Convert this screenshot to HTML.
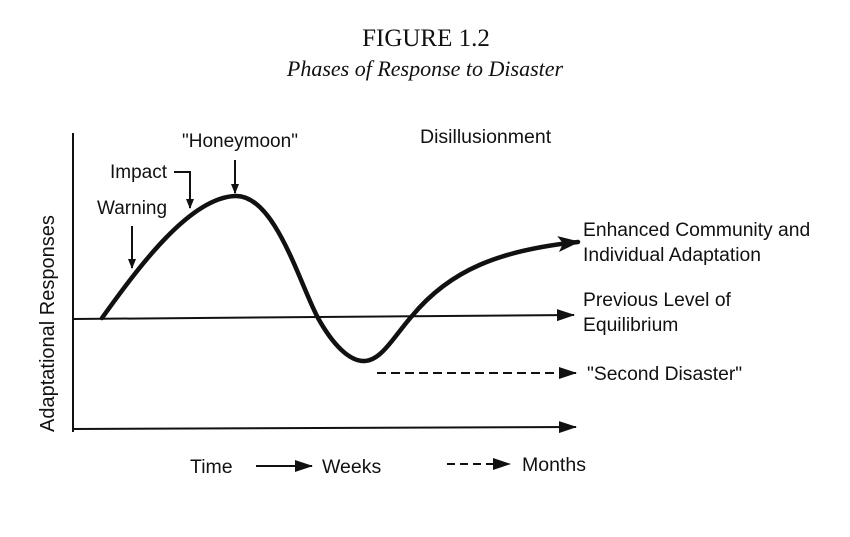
<!DOCTYPE html>
<html><head><style>
body{margin:0;background:#fff;}
svg text{font-family:"Liberation Sans",sans-serif;fill:#111;}
</style></head><body>
<svg width="850" height="532" viewBox="0 0 850 532" xmlns="http://www.w3.org/2000/svg">
<defs>
<marker id="ah" markerWidth="10" markerHeight="8" refX="9" refY="4" orient="auto" markerUnits="userSpaceOnUse" viewBox="0 0 10 8"><path d="M0,0 L10,4 L0,8 z" fill="#111"/></marker>
<marker id="ah2" markerWidth="22" markerHeight="16" refX="20" refY="8" orient="auto" markerUnits="userSpaceOnUse" viewBox="0 0 22 16"><path d="M0,0 L22,8 L0,16 L5,8 z" fill="#111"/></marker>
<marker id="ah3" markerWidth="18" markerHeight="12" refX="17" refY="6" orient="auto" markerUnits="userSpaceOnUse" viewBox="0 0 18 12"><path d="M0,0 L18,6 L0,12 z" fill="#111"/></marker>
</defs>
<text x="426" y="46" text-anchor="middle" style="font-family:'Liberation Serif',serif;font-size:25px">FIGURE 1.2</text>
<text x="425" y="76" text-anchor="middle" style="font-family:'Liberation Serif',serif;font-size:22px;font-style:italic">Phases of Response to Disaster</text>
<line x1="73" y1="133" x2="73" y2="432" stroke="#111" stroke-width="2"/>
<line x1="73" y1="429" x2="576" y2="427" stroke="#111" stroke-width="2" marker-end="url(#ah3)"/>
<line x1="73" y1="319" x2="574" y2="315" stroke="#111" stroke-width="2" marker-end="url(#ah3)"/>
<line x1="377" y1="373" x2="576" y2="373" stroke="#111" stroke-width="2" stroke-dasharray="9,5" marker-end="url(#ah3)"/>
<path d="M102,318 C140,265 190,198 235,196 C275,194 300,285 318,318 C333,345 350,362 365,361 C382,360 395,335 412,316 C450,270 500,250 578,242" fill="none" stroke="#111" stroke-width="4.5" stroke-linecap="round" marker-end="url(#ah2)"/>
<line x1="132" y1="226" x2="132" y2="268" stroke="#111" stroke-width="2" marker-end="url(#ah)"/>
<polyline points="174,172 190,172 190,208" fill="none" stroke="#111" stroke-width="2" marker-end="url(#ah)"/>
<line x1="235" y1="160" x2="235" y2="193" stroke="#111" stroke-width="2" marker-end="url(#ah)"/>
<text x="97" y="214" font-size="19">Warning</text>
<text x="110" y="178" font-size="19">Impact</text>
<text x="182" y="147" font-size="19">"Honeymoon"</text>
<text x="420" y="143" font-size="19.5">Disillusionment</text>
<text x="583" y="236" font-size="19.3">Enhanced Community and</text>
<text x="583" y="261" font-size="19.3">Individual Adaptation</text>
<text x="583" y="306" font-size="19.3">Previous Level of</text>
<text x="583" y="331" font-size="19.3">Equilibrium</text>
<text x="587" y="380" font-size="19.3">"Second Disaster"</text>
<text transform="translate(54,432) rotate(-90)" font-size="20">Adaptational Responses</text>
<text x="190" y="473" font-size="19.5">Time</text>
<line x1="256" y1="466" x2="312" y2="466" stroke="#111" stroke-width="2" marker-end="url(#ah3)"/>
<text x="322" y="473" font-size="19.5">Weeks</text>
<line x1="447" y1="464" x2="510" y2="464" stroke="#111" stroke-width="2" stroke-dasharray="8,5" marker-end="url(#ah3)"/>
<text x="522" y="471" font-size="19.5">Months</text>
</svg>
</body></html>
